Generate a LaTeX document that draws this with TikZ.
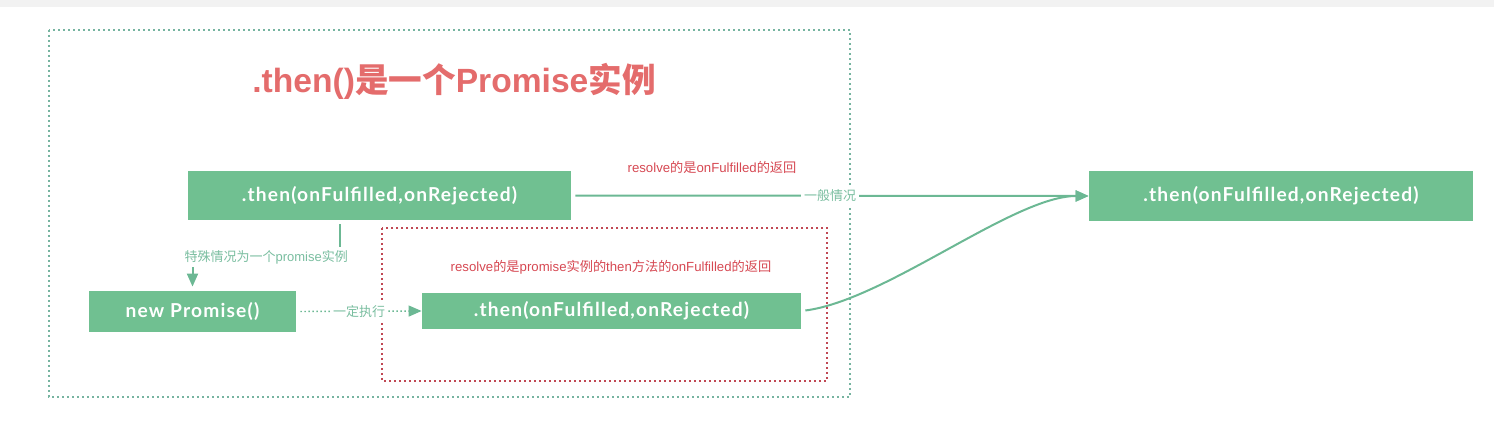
\documentclass[tikz,border=0pt]{standalone}
\usepackage{fontspec}
\setmainfont{Liberation Sans}
\newfontfamily\cjk{Noto Sans CJK SC}
\newfontfamily\boxfont[LetterSpace=6]{Lato}
\usepackage{xcolor}
\usepackage{tikz}
\usetikzlibrary{arrows.meta,calc}
\definecolor{boxgreen}{RGB}{112,192,145}
\definecolor{linegreen}{RGB}{108,184,148}
\definecolor{txtgreen}{RGB}{122,190,160}
\definecolor{framegreen}{RGB}{118,180,160}
\definecolor{titlered}{RGB}{228,108,108}
\definecolor{txtred}{RGB}{214,72,82}
\definecolor{framered}{RGB}{192,72,84}
\newcommand\zh[1]{{\cjk #1}}

\begin{document}
\begin{tikzpicture}[x=0.5pt,y=-0.5pt,>={Triangle[length=6.5pt,width=5.5pt]},
  thenbox/.style={fill=boxgreen,text=white,inner sep=0pt,font=\boxfont\bfseries\fontsize{9.6}{9.6}\selectfont},
  flow/.style={draw=linegreen,line width=1pt,->,shorten <=2pt},
  greentxt/.style={text=txtgreen,fill=white,inner sep=1.5pt,font=\fontsize{6.5}{7}\selectfont},
  redtxt/.style={text=txtred,font=\fontsize{6.6}{7}\selectfont},
  dotframe/.style={line width=1pt,dash pattern=on 1pt off 1.5pt}]
\useasboundingbox (0,0) rectangle (1494,432);
\fill[gray!10] (0,0) rectangle (1494,7);
% frames
\draw[dotframe,framegreen] (49,30) rectangle (850,397);
\draw[dotframe,framered] (382,228) rectangle (827,381);
\node[text=titlered,font=\bfseries\fontsize{16.8}{16.8}\selectfont] (title) at (454,81) {.then()\zh{是一个}Promise\zh{实例}};
% boxes
\node[thenbox,minimum width=191.5pt,minimum height=24.5pt] (then1) at (379.5,195.5) {.then(onFulfilled,onRejected)};
\node[thenbox,minimum width=103.5pt,minimum height=20.5pt] (newp) at (192.5,311.5) {new Promise()};
\node[thenbox,minimum width=189.5pt,minimum height=18pt] (then2) at (611.5,311) {.then(onFulfilled,onRejected)};
\node[thenbox,minimum width=192pt,minimum height=25pt] (then3) at (1281,196) {.then(onFulfilled,onRejected)};
\node[redtxt] (lbl1) at (712,167) {resolve\zh{的是}onFulfilled\zh{的返回}};
\node[redtxt] (lbl2) at (611,267) {resolve\zh{的是}promise\zh{实例的}then\zh{方法的}onFulfilled\zh{的返回}};
% connectors
\coordinate (split) at (340,257);
\draw[flow,shorten >=2pt] (then1.south -| split) -- (split) -- node[greentxt]{\zh{特殊情况为一个}promise\zh{实例}} (split -| newp.north) -- (newp.north);
\draw[flow,line width=0.7pt,dash pattern=on 0.7pt off 1.3pt] (newp.east) -- node[greentxt]{\zh{一定执行}} (then2.west);
\draw[flow] (then1.east) -- node[greentxt]{\zh{一般情况}} (then3.west);
\draw[flow] (then2.east) .. controls +(85,-11) and +(-75,0) .. (then3.west);
\end{tikzpicture}
\end{document}
